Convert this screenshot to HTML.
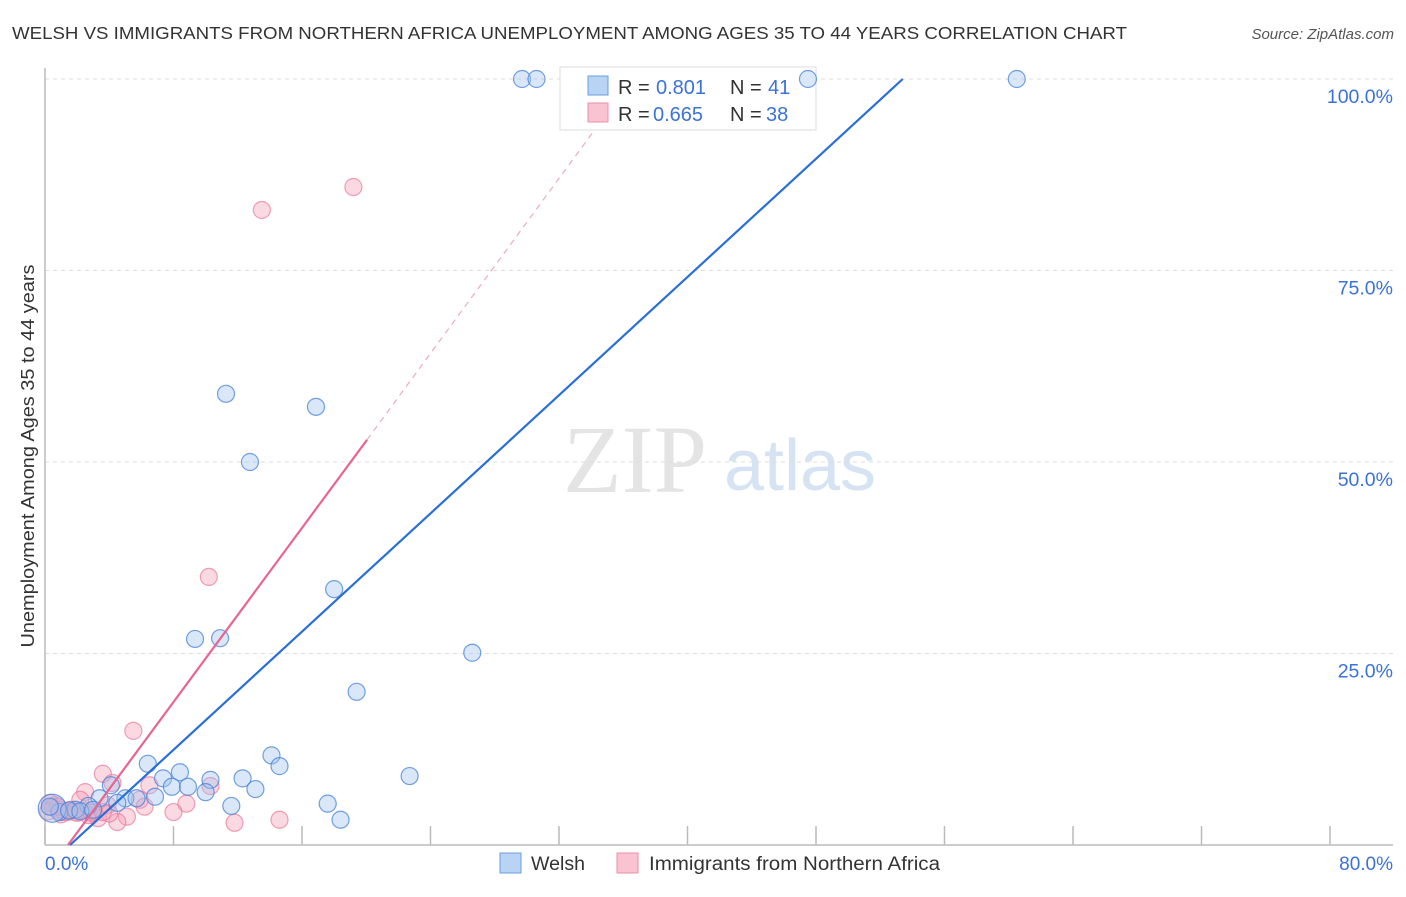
<!DOCTYPE html>
<html><head><meta charset="utf-8"><style>
body{margin:0;background:#fff;font-family:"Liberation Sans",sans-serif}
</style></head><body>
<svg width="1406" height="892" xmlns="http://www.w3.org/2000/svg">
<text x="12" y="39" font-size="17.5" fill="#333" textLength="1115" lengthAdjust="spacingAndGlyphs">WELSH VS IMMIGRANTS FROM NORTHERN AFRICA UNEMPLOYMENT AMONG AGES 35 TO 44 YEARS CORRELATION CHART</text>
<text x="1394" y="39" font-size="15" fill="#555" font-style="italic" text-anchor="end">Source: ZipAtlas.com</text>
<text x="635" y="492" font-size="96" fill="#e4e4e4" font-family="Liberation Serif,serif" text-anchor="middle">ZIP</text>
<text x="800" y="490" font-size="72" fill="#d6e3f3" text-anchor="middle">atlas</text>
<g id="grid"></g>
<line x1="45" y1="68" x2="45" y2="845" stroke="#bbb" stroke-width="1.5"/>
<line x1="45" y1="845" x2="1393" y2="845" stroke="#bbb" stroke-width="1.5"/>
<g id="ticks"></g>
<text transform="translate(34,456) rotate(-90)" font-size="18" fill="#333" text-anchor="middle" textLength="383" lengthAdjust="spacingAndGlyphs">Unemployment Among Ages 35 to 44 years</text>
<text x="45" y="870" font-size="19" fill="#3a72d8">0.0%</text>
<text x="1393" y="870" font-size="19" fill="#3a72d8" text-anchor="end">80.0%</text>
<g>
<rect x="560" y="67" width="256" height="63" fill="#fff" stroke="#ddd"/>
<rect x="588" y="76" width="20" height="19" fill="#b9d3f5" stroke="#6a9ee0"/>
<rect x="588" y="103" width="20" height="19" fill="#f9c3d2" stroke="#ec8fab"/>
<text x="618" y="94" font-size="20" fill="#333">R =</text>
<text x="656" y="94" font-size="20" fill="#3a72d8">0.801</text>
<text x="730" y="94" font-size="20" fill="#333">N =</text>
<text x="768" y="94" font-size="20" fill="#3a72d8">41</text>
<text x="618" y="121" font-size="20" fill="#333">R =</text>
<text x="653" y="121" font-size="20" fill="#3a72d8">0.665</text>
<text x="730" y="121" font-size="20" fill="#333">N =</text>
<text x="766" y="121" font-size="20" fill="#3a72d8">38</text>
</g>
<g id="pts"></g>
<g id="lines"></g>
<g>
<rect x="500" y="853" width="21" height="20" fill="#b9d3f5" stroke="#6a9ee0"/>
<text x="531" y="870" font-size="19" fill="#333" textLength="54" lengthAdjust="spacingAndGlyphs">Welsh</text>
<rect x="617" y="853" width="21" height="20" fill="#f9c3d2" stroke="#ec8fab"/>
<text x="649" y="870" font-size="19" fill="#333" textLength="291" lengthAdjust="spacingAndGlyphs">Immigrants from Northern Africa</text>
</g>
</svg>
<script>
const yTicks=[25,50,75,100];
const yTickLabels=["25.0%","50.0%","75.0%","100.0%"];
const xTicks=[0,8,16,24,32,40,48,56,64,72,80];
const welshX=[29.7,30.6,47.5,60.5,11.27,16.87,12.76,18.0,9.34,10.9,26.6,19.4,14.1,14.6,22.7,6.4,8.4,7.35,10.3,12.3,7.9,8.9,10.0,13.1,11.6,17.6,18.4,4.1,5.0,5.7,6.85,3.4,2.7,1.9,0.9,0.45,1.5,2.2,3.0,4.5,0.3];
const welshY=[100,100,100,100,58.9,57.2,50.0,33.4,26.9,27.0,25.1,20.0,11.7,10.3,9.0,10.6,9.5,8.7,8.5,8.7,7.6,7.6,6.9,7.3,5.1,5.4,3.3,7.8,6.1,6.1,6.3,6.1,5.1,4.6,4.3,4.8,4.5,4.4,4.6,5.5,5.0];
const afrX=[19.2,13.5,10.2,5.5,3.6,4.2,2.5,6.5,5.9,8.8,6.2,8.0,11.8,14.6,5.1,4.5,3.3,2.7,1.9,0.9,0.6,10.3,3.9,2.2,1.4,0.3,1.0,2.0,3.0,4.0,1.6,2.4,0.5,1.2,2.9,3.6,0.2,0.8];
const afrY=[85.9,82.9,35.0,14.9,9.3,8.1,6.9,7.8,5.9,5.4,5.0,4.3,2.9,3.3,3.7,3.0,3.5,3.9,4.3,4.6,5.2,7.7,5.2,5.9,4.3,5.5,4.0,4.2,4.4,4.1,4.6,4.5,4.9,4.3,4.2,4.3,4.4,5.0];
const welshLine=[1.56,0,53.4,100];
const afrLine=[1.43,0,20.05,52.9];
const afrDash=[20.05,52.9,34.2,93.3];
const X=v=>45+v*(1285/80), Y=v=>845-v*7.66;
const NS="http://www.w3.org/2000/svg";
function mk(t,a,p){const e=document.createElementNS(NS,t);for(const k in a)e.setAttribute(k,a[k]);p.appendChild(e);return e;}
const grid=document.getElementById('grid'),ticks=document.getElementById('ticks'),pts=document.getElementById('pts'),lines=document.getElementById('lines');
yTicks.forEach((v,i)=>{
 const l=mk('line',{x1:45,x2:1393,y1:Y(v),y2:Y(v),stroke:'#ddd','stroke-dasharray':'4,4'},grid);
 
 
 const t=mk('text',{x:1393,y:Y(v)+24,'font-size':19.5,fill:'#3a72d8','text-anchor':'end'},grid);
 t.textContent=yTickLabels[i];
 
 
});
xTicks.forEach(v=>{
 const l=mk('line',{x1:X(v),x2:X(v),y1:826,y2:845,stroke:'#bbb','stroke-width':1.5},ticks);
 
 
});
afrX.forEach((v,i)=>{
 const c=mk('circle',{cx:X(v),cy:Y(afrY[i]),r:8.5,fill:'rgba(246,160,186,0.4)',stroke:'rgba(233,120,155,0.7)','stroke-width':1.2},pts);
 
 
});
welshX.forEach((v,i)=>{
 const r=i==35?14:8.5;
 const c=mk('circle',{cx:X(v),cy:Y(welshY[i]),r:r,fill:'rgba(160,195,240,0.4)',stroke:'rgba(70,130,215,0.75)','stroke-width':1.2},pts);
 
 
});
let l1=mk('line',{x1:X(welshLine[0]),y1:Y(welshLine[1]),x2:X(welshLine[2]),y2:Y(welshLine[3]),stroke:'#2a6fd6','stroke-width':2.2},lines);


let l2=mk('line',{x1:X(afrLine[0]),y1:Y(afrLine[1]),x2:X(afrLine[2]),y2:Y(afrLine[3]),stroke:'#e8658f','stroke-width':2.2},lines);


let l3=mk('line',{x1:X(afrDash[0]),y1:Y(afrDash[1]),x2:X(afrDash[2]),y2:Y(afrDash[3]),stroke:'#eeaabf','stroke-width':1.2,'stroke-dasharray':'6,5'},lines);


</script>
</body></html>
